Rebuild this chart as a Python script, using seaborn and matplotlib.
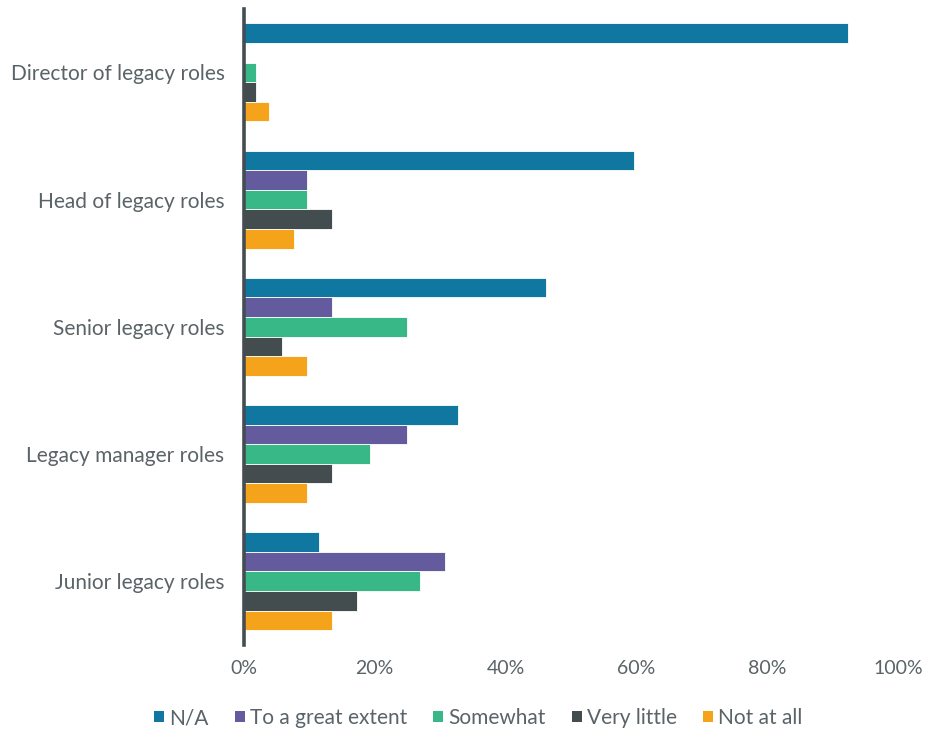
import matplotlib
matplotlib.use("Agg")
import matplotlib.pyplot as plt
from matplotlib.ticker import PercentFormatter
from matplotlib.patches import Patch
import seaborn as sns
import pandas as pd

roles = [
    "Director of legacy roles",
    "Head of legacy roles",
    "Senior legacy roles",
    "Legacy manager roles",
    "Junior legacy roles",
]
responses = ["N/A", "To a great extent", "Somewhat", "Very little", "Not at all"]

# Share of respondents (%) per role, one list per response
na_vals = [92.3, 59.6, 46.2, 32.7, 11.5]
great_vals = [0.0, 9.6, 13.5, 25.0, 30.8]
somewhat_vals = [1.9, 9.6, 25.0, 19.2, 26.9]
little_vals = [1.9, 13.5, 5.8, 13.5, 17.3]
notatall_vals = [3.8, 7.7, 9.6, 9.6, 13.5]

colors = ["#0F77A0", "#635B9E", "#38B886", "#434D50", "#F5A31A"]

series = [na_vals, great_vals, somewhat_vals, little_vals, notatall_vals]
df = pd.DataFrame(
    [(r, resp, v) for resp, vals in zip(responses, series) for r, v in zip(roles, vals)],
    columns=["role", "response", "value"],
)

sns.set_theme(style="white")
plt.rcParams["font.family"] = ["Lato", "DejaVu Sans"]
text_color = "#5A6367"

fig = plt.figure(figsize=(9.29, 7.32), dpi=100)
ax = fig.add_axes([0.2626, 0.119, 0.704, 0.869])

sns.barplot(
    data=df, x="value", y="role", hue="response",
    order=roles, hue_order=responses, palette=colors, saturation=1,
    orient="h", width=0.77, edgecolor="white", linewidth=0.6,
    legend=False, ax=ax,
)

ax.set_xlim(0, 100)
ax.set_ylim(4.5, -0.5)
ax.xaxis.set_major_formatter(PercentFormatter(decimals=0))
ax.set_xticks([0, 20, 40, 60, 80, 100])
ax.set_xlabel("")
ax.set_ylabel("")
ax.tick_params(axis="both", length=0, colors=text_color)
ax.tick_params(axis="x", pad=11, labelsize=14)
ax.tick_params(axis="y", pad=14, labelsize=15)

for side in ["top", "right", "bottom"]:
    ax.spines[side].set_visible(False)
ax.spines["left"].set_color("#444E52")
ax.spines["left"].set_linewidth(2.6)
ax.spines["left"].set_zorder(5)

handles = [Patch(facecolor=c, edgecolor="none") for c in colors]
leg = fig.legend(
    handles, responses, loc="center", bbox_to_anchor=(0.515, 0.019),
    ncol=5, frameon=False, handlelength=0.48, handleheight=0.48,
    handletextpad=0.25, columnspacing=1.25, fontsize=15,
)
for t in leg.get_texts():
    t.set_color(text_color)

fig.savefig("out.png", dpi=100, facecolor="white")
